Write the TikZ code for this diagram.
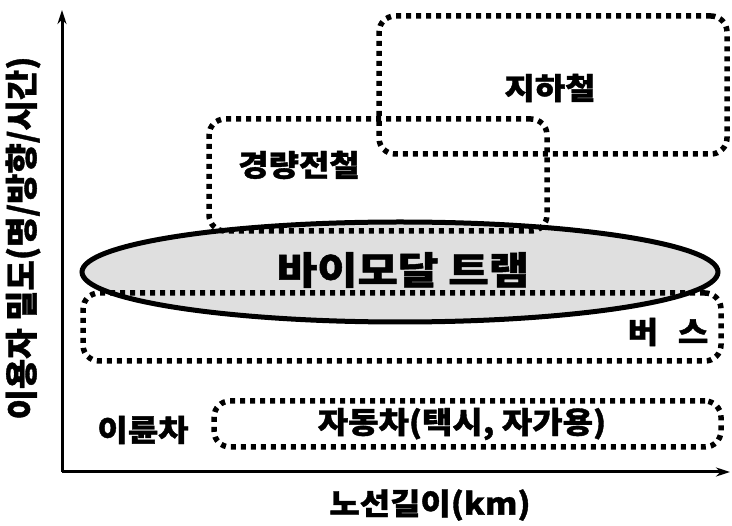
\documentclass[tikz,border=0pt]{standalone}
\usepackage{fontspec}
\setmainfont{Noto Sans CJK KR}[BoldFeatures={FakeBold=1.2}]
\usetikzlibrary{arrows.meta,shapes.geometric}
\begin{document}
\begin{tikzpicture}[x=1pt,y=-1pt,
  dotbox/.style={draw=black, line width=5.5pt, dash pattern=on 5pt off 5pt, rounded corners=16pt, rectangle, inner sep=0pt},
  lbl/.style={font=\bfseries\fontsize{30}{34}\selectfont, inner sep=0pt, xscale=1.1},
  axis/.style={line width=3pt, -{Stealth[length=14pt,width=9pt]}}]
\useasboundingbox (0,0) rectangle (732,526);
% ellipse
\node[ellipse, draw=black, line width=5pt, fill=gray!25, minimum width=636pt, minimum height=100pt, inner sep=0pt] (tram) at (400,272) {};
% boxes
\node[dotbox, minimum width=348pt, minimum height=138pt] (subway) at (553,85) {};
\node[dotbox, minimum width=338pt, minimum height=112pt] (lrt) at (378,175) {};
\node[dotbox, minimum width=638pt, minimum height=68pt] (bus) at (402,327) {};
\node[dotbox, minimum width=507pt, minimum height=46pt] (car) at (467.5,424) {};
% labels
\node[lbl] (tsubway) at (550,88) {지하철};
\node[lbl] (tlrt) at (299,165) {경량전철};
\node[lbl, font=\bfseries\fontsize{38}{40}\selectfont, xscale=1.05] (ttram) at (403,270) {바이모달 트램};
\node[lbl] (tbus) at (668,332) {버\hspace{18pt}스};
\node[lbl] (tcar) at (462,424) {자동차(택시, 자가용)};
\node[lbl] (tbike) at (143,430) {이륜차};
% axes
\coordinate (o) at (62,472);
\coordinate (ytop) at (62,10);
\coordinate (xend) at (730,472);
\draw[axis] (o) -- (ytop);
\draw[axis] (o) -- (xend);
\node[lbl, rotate=90, xscale=1.1] (ylab) at (23,238) {이용자 밀도(명/방향/시간)};
\node[lbl] (xlab) at (430,505) {노선길이(km)};
\end{tikzpicture}
\end{document}
